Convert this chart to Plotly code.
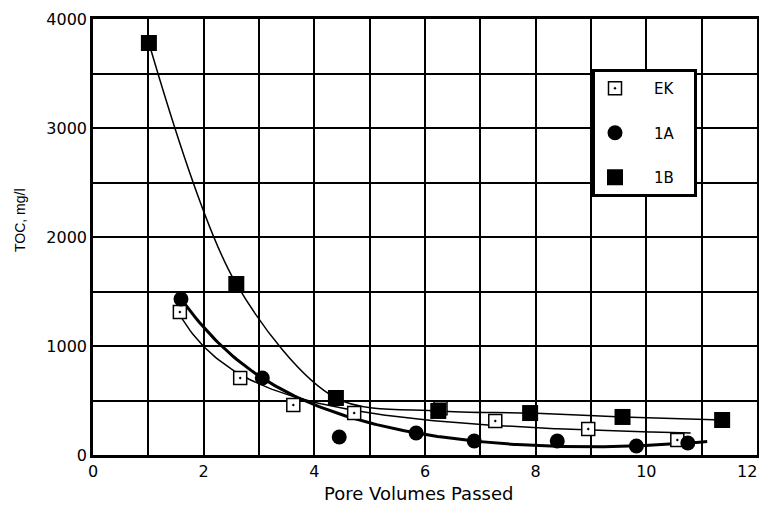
import numpy as np
import plotly.graph_objects as go

# Data
ek_x = [1.57, 2.66, 3.62, 4.72, 6.28, 7.27, 8.95, 10.56]
ek_y = [1312, 706, 459, 385, 430, 312, 238, 138]
a1_x = [1.59, 3.06, 4.45, 5.84, 6.89, 8.39, 9.82, 10.75]
a1_y = [1431, 706, 165, 202, 128, 128, 83, 110]
b1_x = [1.01, 2.59, 4.39, 6.24, 7.90, 9.57, 11.37]
b1_y = [3780, 1569, 523, 404, 385, 349, 321]

x_ticks = [0, 2, 4, 6, 8, 10, 12]
y_ticks = [0, 1000, 2000, 3000, 4000]
series_names = ["EK", "1A", "1B"]
x_title = "Pore Volumes Passed"
y_title = "TOC, mg/l"


def fit_curve(xs, ys, basis, x0, x1, robust=False):
    xs = np.asarray(xs, float)
    ys = np.asarray(ys, float)
    A = np.column_stack([f(xs) for f in basis])
    w = np.ones_like(xs)
    for _ in range(8 if robust else 1):
        W_ = np.sqrt(w)
        coef, *_ = np.linalg.lstsq(A * W_[:, None], ys * W_, rcond=None)
        if not robust:
            break
        r = ys - A @ coef
        s = np.median(np.abs(r)) / 0.6745 + 1e-9
        u = r / (4.685 * s)
        w = np.where(np.abs(u) < 1, (1 - u ** 2) ** 2, 0.0)
    xx = np.linspace(x0, x1, 200)
    yy = np.column_stack([f(xx) for f in basis]) @ coef
    return xx, yy


one = lambda x: np.ones_like(x)
inv = lambda x: 1.0 / x
inv2 = lambda x: 1.0 / x ** 2
lin = lambda x: x
cube = lambda x: x ** 3

ex, ey = fit_curve(ek_x, ek_y, [one, inv, lin], min(ek_x), 10.8)
ax_, ay_ = fit_curve(a1_x, a1_y, [one, inv, inv2, cube], min(a1_x), 11.1, robust=True)

fig = go.Figure()
# 1B: smooth curve through its points
fig.add_trace(go.Scatter(x=b1_x, y=b1_y, mode="lines",
                         line=dict(color="black", width=1.5, shape="spline", smoothing=0.9),
                         showlegend=False, hoverinfo="skip"))
fig.add_trace(go.Scatter(x=ex, y=ey, mode="lines", line=dict(color="black", width=1.5),
                         showlegend=False, hoverinfo="skip"))
fig.add_trace(go.Scatter(x=ax_, y=ay_, mode="lines", line=dict(color="black", width=3),
                         showlegend=False, hoverinfo="skip"))

pad = "\u00a0\u00a0\u00a0\u00a0"
tail = "\u00a0\u00a0\u00a0"
fig.add_trace(go.Scatter(x=ek_x, y=ek_y, mode="markers", name=pad + series_names[0] + tail,
                         legendgroup="a",
                         marker=dict(symbol="square-dot", size=13, color="white",
                                     line=dict(color="black", width=1.5))))
fig.add_trace(go.Scatter(x=a1_x, y=a1_y, mode="markers", name=pad + series_names[1] + tail,
                         legendgroup="b",
                         marker=dict(symbol="circle", size=15, color="black")))
fig.add_trace(go.Scatter(x=b1_x, y=b1_y, mode="markers", name=pad + series_names[2] + tail,
                         legendgroup="c",
                         marker=dict(symbol="square", size=16, color="black")))

tick_font = dict(family="DejaVu Sans", size=16, color="black")
axis_common = dict(showline=True, linecolor="black", linewidth=2.5, mirror=True,
                   showgrid=True, gridcolor="black", gridwidth=1.5, zeroline=False,
                   automargin=False, ticks="", tickfont=tick_font)

# page body has an 8px margin, so the figure is placed at (8, 8)
W, H = 759, 495
ML, MR, MT, MB = 85, 10, 11, 48
PW, PH = W - ML - MR, H - MT - MB


def px_x(px):
    return (px - 8 - ML) / PW


def px_y(py):
    return 1 - (py - 8 - MT) / PH


# the last x tick label sits at the right page edge; draw it so it stays inside the page
x_ticktext = [str(v) for v in x_ticks[:-1]] + [""]

fig.update_layout(
    width=W, height=H,
    margin=dict(l=ML, r=MR, t=MT, b=MB),
    paper_bgcolor="white", plot_bgcolor="white",
    xaxis=dict(range=[0, 12], tickvals=x_ticks, ticktext=x_ticktext,
               minor=dict(dtick=1, showgrid=True, gridcolor="black", gridwidth=1.5),
               **axis_common),
    yaxis=dict(range=[0, 4000], tickvals=y_ticks, ticktext=[str(v) for v in y_ticks],
               minor=dict(dtick=500, showgrid=True, gridcolor="black", gridwidth=1.5),
               **axis_common),
    legend=dict(x=px_x(592), y=px_y(69), xanchor="left", yanchor="top",
                bgcolor="white", bordercolor="black", borderwidth=3,
                font=dict(family="DejaVu Sans", size=15, color="black"),
                tracegroupgap=22, itemwidth=30),
    showlegend=True,
    annotations=[
        dict(text=str(x_ticks[-1]), xref="x", yref="paper", x=x_ticks[-1], y=0,
             xanchor="right", yanchor="top", xshift=2, yshift=-5, showarrow=False,
             font=tick_font),
        dict(text=x_title, xref="paper", yref="paper", x=px_x(418), y=px_y(493),
             xanchor="center", yanchor="middle", showarrow=False,
             font=dict(family="DejaVu Sans", size=18, color="black")),
        dict(text=y_title, xref="paper", yref="paper", x=px_x(20), y=px_y(220),
             xanchor="center", yanchor="middle", showarrow=False, textangle=-90,
             font=dict(family="Liberation Sans", size=14, color="black")),
    ],
)

fig.write_html("out.html")
